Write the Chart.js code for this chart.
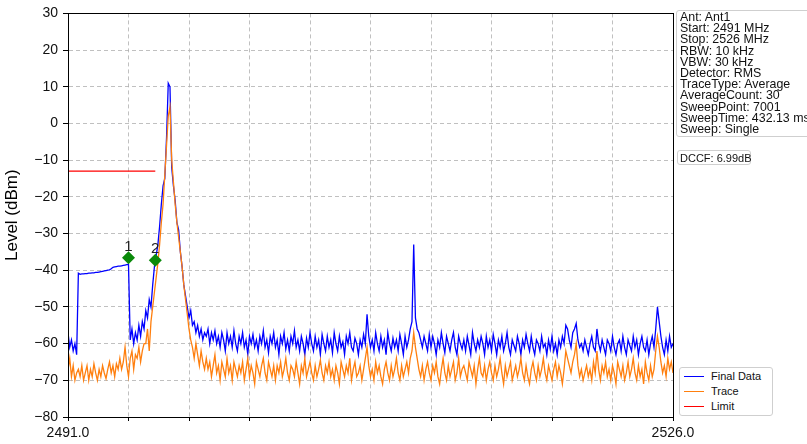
<!DOCTYPE html>
<html>
<head>
<meta charset="utf-8">
<script src="https://cdn.jsdelivr.net/npm/chart.js@4.4.1/dist/chart.umd.min.js"></script>
<style>
  html, body { margin: 0; padding: 0; background: #fff; }
  #wrap { position: relative; width: 807px; height: 444px; overflow: hidden; font-family: "Liberation Sans", Arial, sans-serif; }
  canvas { position: absolute; left: 0; top: 0; }
  .box { position: absolute; background: #fff; border: 1px solid #cfcfcf; border-radius: 3px; color: #111; }
  #info { left: 676px; top: 10px; width: 150px; height: 127px; font-size: 12.4px; line-height: 11.2px; padding: 1px 0 0 3px; box-sizing: border-box; }
  #dccf { left: 677px; top: 150px; width: 74px; height: 15px; font-size: 11px; line-height: 14px; padding-left: 2px; box-sizing: border-box; white-space: nowrap; }
  #legend { left: 679px; top: 367px; width: 94px; height: 49px; font-size: 11px; box-sizing: border-box; }
  .row { position: absolute; left: 0; height: 14px; line-height: 14px; }
  .row i { position: absolute; left: 4px; top: 7px; width: 20px; height: 0; border-top: 1.5px solid; }
  .row span { position: absolute; left: 31px; white-space: nowrap; }
</style>
</head>
<body>
<div id="wrap">
  <canvas id="chart" width="807" height="444"></canvas>
  <div id="info" class="box"></div>
  <div id="dccf" class="box"></div>
  <div id="legend" class="box"></div>
</div>
<script>
"use strict";

// sweep axis: 2491.0 .. 2526.0 MHz, one reading every 0.1 MHz
const FREQ_START = 2491.0;
const FREQ_STEP = 0.1;

// "Final Data" trace (dBm), one line per MHz: x.0 .. x.9
const finalData = [
  -57, -61, -59, -62, -60, -63, -40.8, -41.1, -41.0, -41.0,            // 2491
  -40.9, -40.9, -40.8, -40.8, -40.7, -40.7, -40.6, -40.6, -40.5, -40.4, // 2492
  -40.3, -40.2, -40.1, -40.0, -39.9, -39.6, -39.2, -39.1, -39.0, -38.9, // 2493
  -38.9, -38.8, -38.7, -38.6, -38.5, -38.4, -59, -56, -60, -57,         // 2494
  -59, -55, -58, -54, -56, -51, -53, -48, -50, -44,                     // 2495
  -39, -36, -33, -28, -22, -17, -15, -4, 11, 10,                        // 2496
  -12, -17, -21, -27, -29, -35, -39, -44, -47, -50,                     // 2497
  -53, -51, -55, -54, -57, -55, -58, -56, -59, -57,                     // 2498
  -58, -56, -60, -57, -59, -56.5, -60, -58, -61, -57,                   // 2499
  -59, -62, -57, -60, -58, -61, -56.5, -60, -62, -58,                   // 2500
  -60, -57, -61, -59, -63, -58, -60, -57.5, -61, -59,                   // 2501
  -62, -58, -60, -56.5, -61, -59, -62.5, -58, -60, -57,                 // 2502
  -61, -59, -63, -58, -60, -57, -61.5, -59, -62, -58,                   // 2503
  -60, -56.5, -61, -59, -62, -58, -60, -63, -58.5, -61,                 // 2504
  -57, -60, -62, -58, -61, -59, -63, -57.5, -60, -62,                   // 2505
  -58, -61, -59, -62.5, -57, -60, -62, -58, -61, -59.5,                 // 2506
  -63, -58, -60, -57, -61, -62, -58.5, -60, -63, -59,                   // 2507
  -61, -57.5, -60, -52, -58, -61, -59, -62, -57, -60,                   // 2508
  -62, -58, -61, -59, -63, -57, -60, -62, -58.5, -61,                   // 2509
  -59, -62, -57.5, -60, -63, -58, -61, -59, -56, -54,                   // 2510
  -33, -53, -56, -57, -59, -61, -58, -60, -62, -57.5,                   // 2511
  -61, -58, -60, -63, -59, -61, -57, -60, -62.5, -58,                   // 2512
  -60, -62, -59, -57, -61, -63, -58, -60, -61.5, -59,                   // 2513
  -62, -58, -60.5, -63, -57, -60, -62, -59, -61, -58,                   // 2514
  -60, -63, -58, -61, -59, -62, -57.5, -60, -63, -59,                   // 2515
  -61, -58, -62, -60, -57, -61, -63, -59, -60.5, -62,                   // 2516
  -58, -60, -63, -59, -61, -57.5, -60, -62, -58, -61,                   // 2517
  -63, -59, -60, -62, -58, -61, -60, -63, -59, -61.5,                   // 2518
  -58, -62, -60, -63, -59, -61, -58, -60, -55, -56,                     // 2519
  -59, -61, -57, -56, -54.5, -59, -61, -60, -62, -59,                   // 2520
  -61, -63, -60, -58, -61, -62, -56, -60, -62, -59,                     // 2521
  -61, -63, -59, -60, -62, -58, -61, -63, -60, -59,                     // 2522
  -62, -58, -61, -63, -59, -60.5, -62, -58, -61, -59,                   // 2523
  -63, -60, -58, -61, -62, -59, -63, -60, -58, -61,                     // 2524
  -56, -50, -54, -58, -61, -63, -59, -62, -58, -61,                     // 2525
  -60                                                                   // 2526
];

// "Trace" (dBm), same sweep points
const traceData = [
  -67, -64, -69, -66, -70, -68, -67, -69, -66, -70,                     // 2491
  -68, -66, -70, -67, -69, -65.5, -68, -70, -67, -69,                   // 2492
  -66, -68, -69.5, -67, -65, -68, -66, -69, -65.5, -67,                 // 2493
  -64, -67, -65, -61, -66, -69, -64, -62, -67, -63,                     // 2494
  -64, -61, -65, -62, -60, -60, -56, -62, -54, -50,                     // 2495
  -46, -42, -38, -33, -27, -22, -14, -6, 2, 4.5,                        // 2496
  -10, -16, -22, -27, -31, -35, -39, -44, -48, -52,                     // 2497
  -56, -59, -61, -64, -60, -63, -66, -62, -65, -67,                     // 2498
  -64, -67, -65, -69, -66, -63, -68, -66, -70, -65,                     // 2499
  -67, -69, -64, -68, -66, -70, -65, -67, -69, -66,                     // 2500
  -68, -65, -70, -67, -64, -69, -66, -68, -71, -65,                     // 2501
  -67, -69, -66, -64, -68, -70, -65, -67, -69, -66,                     // 2502
  -70, -66, -68, -65, -69, -67, -64, -68, -70, -66,                     // 2503
  -67, -69, -65, -68, -71, -66, -68, -64, -69, -67,                     // 2504
  -65, -68, -70, -66, -69, -67, -64.5, -68, -70, -66,                   // 2505
  -68, -65, -69, -67, -70, -66, -68, -71, -65, -67,                     // 2506
  -69, -66, -68, -64, -70, -67, -65, -69, -68, -66,                     // 2507
  -70, -67, -64, -61, -66, -69, -67, -70, -65, -68,                     // 2508
  -66, -69, -71, -67, -65, -68, -70, -66, -69, -67,                     // 2509
  -64, -68, -70, -66, -69, -67, -65, -68, -64, -62,                     // 2510
  -57, -61, -64, -67, -69, -66, -70, -67, -65, -68,                     // 2511
  -70, -66, -68, -65, -69, -71, -67, -64, -68, -70,                     // 2512
  -66, -69, -67, -65, -70, -68, -64, -69, -67, -66,                     // 2513
  -68, -70, -65, -67, -69, -66, -71, -67, -64, -68,                     // 2514
  -69, -66, -70, -67, -65, -68, -70, -66, -69, -67,                     // 2515
  -64, -68, -71, -66, -69, -67, -65, -70, -68, -66,                     // 2516
  -69, -67, -64, -68, -70, -66, -69, -71, -67, -65,                     // 2517
  -68, -70, -66, -69, -67, -64, -68, -70, -66, -68,                     // 2518
  -70, -67, -65, -69, -66, -68, -71, -67, -62, -64,                     // 2519
  -66, -68, -65, -63, -60, -66, -69, -67, -70, -68,                     // 2520
  -66, -69, -67, -70, -65, -68, -62, -67, -70, -66,                     // 2521
  -68, -65, -69, -67, -70, -66, -68, -71, -65, -67,                     // 2522
  -69, -66, -70, -68, -65, -69, -67, -64, -68, -70,                     // 2523
  -66, -69, -67, -71, -65, -68, -70, -66, -69, -67,                     // 2524
  -62, -58, -61, -65, -68, -66, -69, -64, -67, -65,                     // 2525
  -68                                                                   // 2526
];

// limit line
const limitFreq = [2491.0, 2496.05];
const limitLevel = [-13, -13];

// markers
const markerFreq = [2494.5, 2496.05];
const markerLevel = [-36.6, -37.3];
const markerLabels = ["1", "2"];

// axes
const xTicks = [2491.0, 2494.5, 2498.0, 2501.5, 2505.0, 2508.5, 2512.0, 2515.5, 2519.0, 2522.5, 2526.0];
const yTicks = [30, 20, 10, 0, -10, -20, -30, -40, -50, -60, -70, -80];

const infoLines = [
  "Ant: Ant1", "Start: 2491 MHz", "Stop: 2526 MHz", "RBW: 10 kHz", "VBW: 30 kHz",
  "Detector: RMS", "TraceType: Average", "AverageCount: 30", "SweepPoint: 7001",
  "SweepTime: 432.13 ms", "Sweep: Single",
];
const dccfText = "DCCF: 6.99dB";

const COLORS = { final: "#0000ff", trace: "#ff7f0e", limit: "#ff0000", marker: "#0a8a0a" };
const FONT = "'Liberation Sans', Arial, sans-serif";

const toPoints = (ys) => ys.map((y, i) => ({ x: +(FREQ_START + i * FREQ_STEP).toFixed(2), y }));
const zip = (xs, ys) => xs.map((x, i) => ({ x, y: ys[i] }));

// frame around the plot area + marker numbers
const framePlugin = {
  id: "frame",
  afterDatasetsDraw(chart) {
    const { ctx, chartArea: a, scales } = chart;
    ctx.save();
    ctx.fillStyle = "#222";
    ctx.font = "15px " + FONT;
    ctx.textAlign = "center";
    ctx.textBaseline = "alphabetic";
    markerFreq.forEach((f, i) => {
      const x = scales.x.getPixelForValue(f);
      const y = scales.y.getPixelForValue(markerLevel[i]);
      ctx.fillText(markerLabels[i], x, y - 7);
    });
    ctx.strokeStyle = "#000";
    ctx.lineWidth = 1;
    ctx.strokeRect(Math.round(a.left) + 0.5, Math.round(a.top) + 0.5,
      Math.round(a.right - a.left), Math.round(a.bottom - a.top));
    ctx.restore();
  },
};

new Chart(document.getElementById("chart"), {
  type: "line",
  data: {
    datasets: [
      { label: "Markers", data: zip(markerFreq, markerLevel), showLine: false,
        pointStyle: "rectRot", pointRadius: 6.5, pointBackgroundColor: COLORS.marker,
        pointBorderColor: COLORS.marker, pointBorderWidth: 0, order: 0 },
      { label: "Trace", data: toPoints(traceData), borderColor: COLORS.trace,
        borderWidth: 1.3, pointRadius: 0, tension: 0, order: 1 },
      { label: "Final Data", data: toPoints(finalData), borderColor: COLORS.final,
        borderWidth: 1.3, pointRadius: 0, tension: 0, order: 2 },
      { label: "Limit", data: zip(limitFreq, limitLevel), borderColor: COLORS.limit,
        borderWidth: 1.2, pointRadius: 0, order: 3 },
    ],
  },
  options: {
    responsive: false,
    animation: false,
    layout: { padding: { left: 0, right: 134, top: 12, bottom: 0 } },
    plugins: { legend: { display: false }, tooltip: { enabled: false } },
    scales: {
      x: {
        type: "linear", min: 2491, max: 2526,
        afterBuildTicks: (s) => { s.ticks = xTicks.map((v) => ({ value: v })); },
        afterFit: (s) => { s.height = 27; },
        grid: { color: "#b0b0b0", lineWidth: 0.8, tickLength: 4, tickColor: "#000", tickWidth: 1 },
        border: { display: true, color: "#000", dash: [4, 3] },
        ticks: {
          autoSkip: false, maxRotation: 0, padding: 4, color: "#111",
          font: { family: FONT, size: 14 },
          callback: (v) => (v === 2491 || v === 2526 ? v.toFixed(1) : ""),
        },
      },
      y: {
        type: "linear", min: -80, max: 30,
        afterBuildTicks: (s) => { s.ticks = yTicks.map((v) => ({ value: v })); },
        afterFit: (s) => { s.width = 68; },
        grid: { color: "#b0b0b0", lineWidth: 0.8, tickLength: 5, tickColor: "#000", tickWidth: 1 },
        border: { display: true, color: "#000", dash: [4, 3] },
        ticks: { padding: 5, color: "#111", font: { family: FONT, size: 14 },
          callback: (v) => String(v).replace("-", "\u2212") },
        title: { display: true, text: "Level (dBm)", color: "#000",
          font: { family: FONT, size: 17 }, padding: { top: 2, bottom: 0 } },
      },
    },
  },
  plugins: [framePlugin],
});

// text boxes
document.getElementById("info").innerHTML = infoLines.map((t) => `<div>${t}</div>`).join("");
document.getElementById("dccf").textContent = dccfText;
document.getElementById("legend").innerHTML = [
  ["Final Data", COLORS.final], ["Trace", COLORS.trace], ["Limit", COLORS.limit],
].map(([name, c], i) => `<div class="row" style="top:${1 + i * 15}px"><i style="border-color:${c}"></i><span>${name}</span></div>`).join("");
</script>
</body>
</html>
